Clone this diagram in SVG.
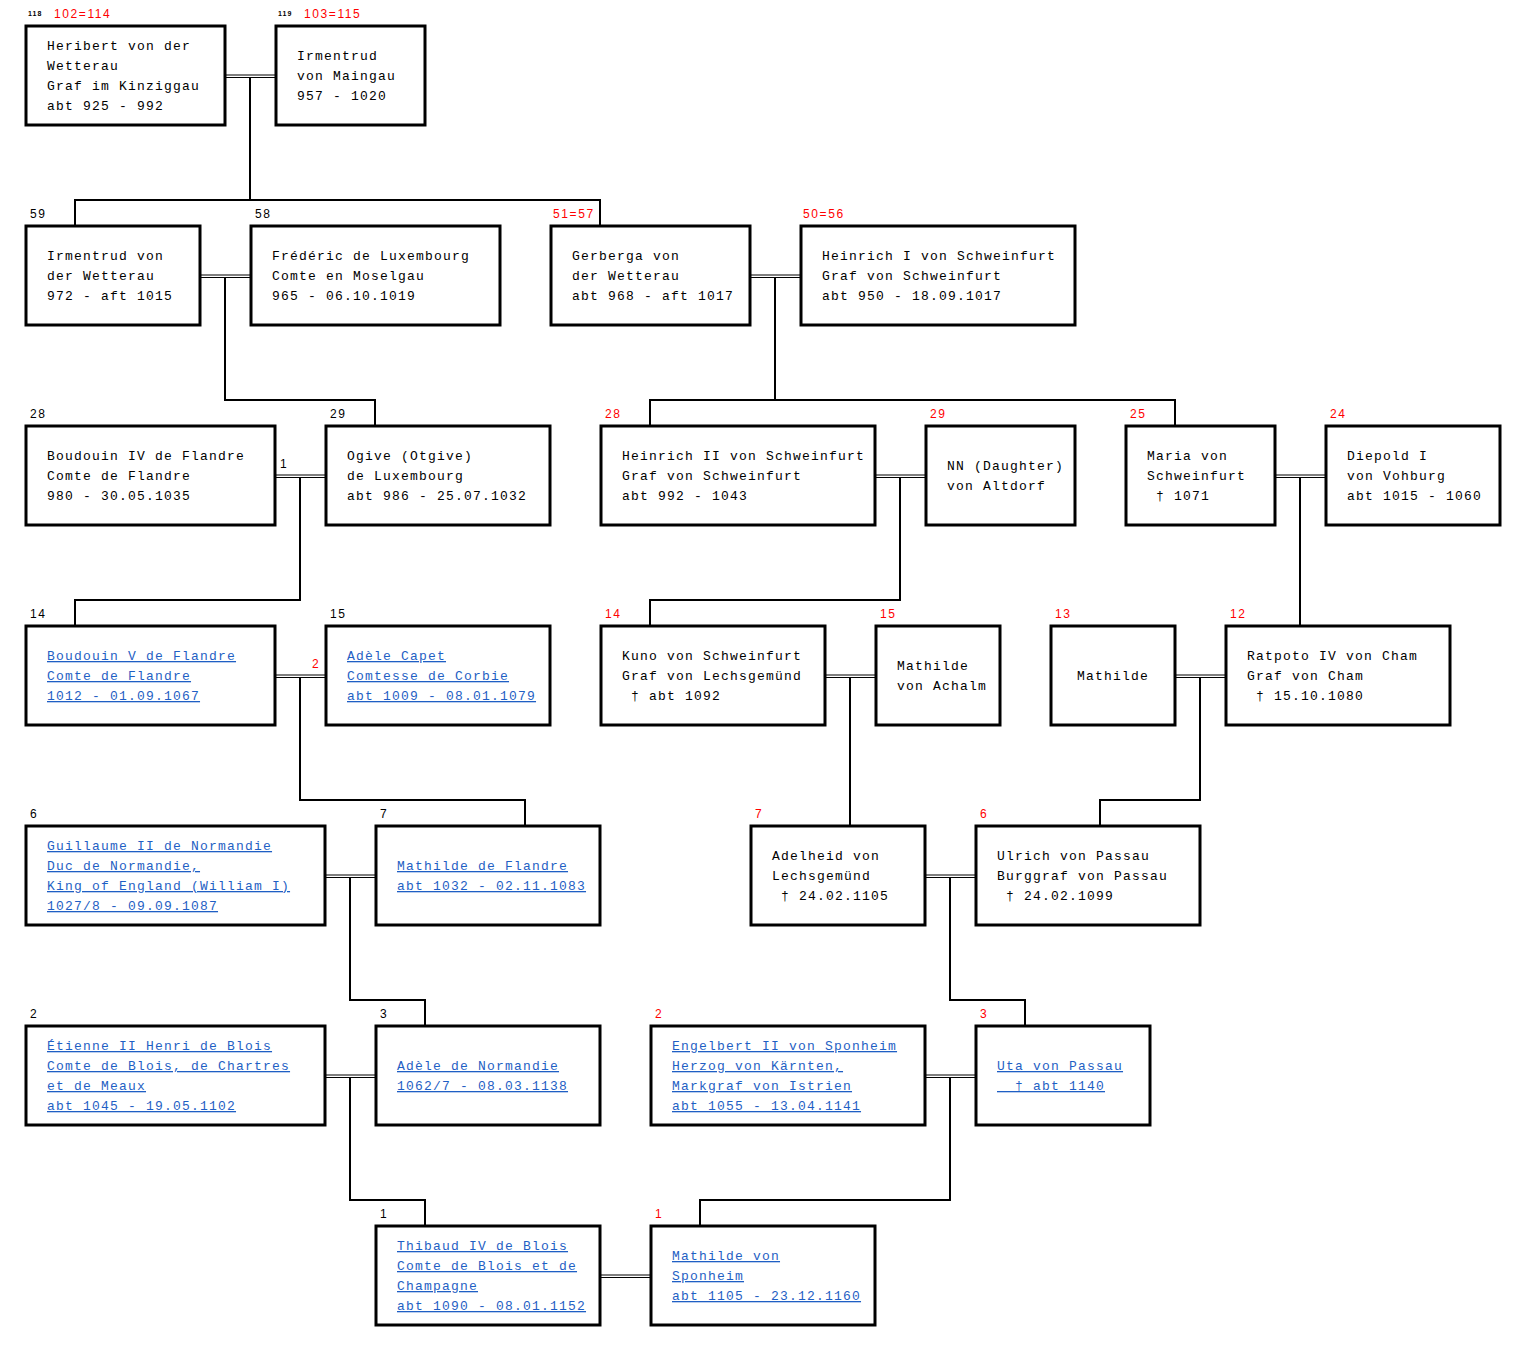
<svg xmlns="http://www.w3.org/2000/svg" width="1526" height="1351" viewBox="0 0 1526 1351">
<style>
.box{fill:#fff;stroke:#000;stroke-width:3}
.t{font-family:"Liberation Mono","Courier New",monospace;font-size:13px;letter-spacing:1.2px;fill:#000;white-space:pre}
.a{fill:#1f5fc4;text-decoration:underline}
.lb{font-family:"Liberation Sans",Arial,sans-serif;font-size:12px;letter-spacing:1.6px;fill:#000}
.r{fill:#f00}
.sm{font-family:"Liberation Sans",Arial,sans-serif;font-size:7px;font-weight:bold;letter-spacing:1px;fill:#000}
.c{fill:none;stroke:#000;stroke-width:2}
.d{fill:none;stroke:#000;stroke-width:1.2}
</style>
<rect width="1526" height="1351" fill="#fff"/>
<g id="connectors">
<path class="d" d="M225 75H275M225 77.5H275 M200 275H250M200 277.5H250 M750 275H800M750 277.5H800 M275 475H325M275 477.5H325 M875 475H925M875 477.5H925 M1275 475H1325M1275 477.5H1325 M275 675H325M275 677.5H325 M825 675H875M825 677.5H875 M1175 675H1225M1175 677.5H1225 M325 875H375M325 877.5H375 M925 875H975M925 877.5H975 M325 1075H375M325 1077.5H375 M925 1075H975M925 1077.5H975 M600 1275H650M600 1277.5H650"/>
<path class="c" d="M250 77.5V200 M75 225V200H600V225"/>
<path class="c" d="M225 277.5V400H375V425"/>
<path class="c" d="M775 277.5V400 M650 425V400H1175V425"/>
<path class="c" d="M300 477.5V600H75V625"/>
<path class="c" d="M900 477.5V600H650V625"/>
<path class="c" d="M1300 477.5V625"/>
<path class="c" d="M300 677.5V800H525V825"/>
<path class="c" d="M850 677.5V825"/>
<path class="c" d="M1200 677.5V800H1100V825"/>
<path class="c" d="M350 877.5V1000H425V1025"/>
<path class="c" d="M950 877.5V1000H1025V1025"/>
<path class="c" d="M350 1077.5V1200H425V1225"/>
<path class="c" d="M950 1077.5V1200H700V1225"/>
</g>
<g id="labels">
<text class="sm" x="28" y="16">118</text><text class="lb r" x="54" y="18">102=114</text>
<text class="sm" x="278" y="16">119</text><text class="lb r" x="304" y="18">103=115</text>
<text class="lb" x="30" y="218">59</text>
<text class="lb" x="255" y="218">58</text>
<text class="lb r" x="553" y="218">51=57</text>
<text class="lb r" x="803" y="218">50=56</text>
<text class="lb" x="30" y="418">28</text>
<text class="lb" x="330" y="418">29</text>
<text class="lb r" x="605" y="418">28</text>
<text class="lb r" x="930" y="418">29</text>
<text class="lb r" x="1130" y="418">25</text>
<text class="lb r" x="1330" y="418">24</text>
<text class="lb" x="280" y="468" fill="#600">1</text>
<text class="lb" x="30" y="618">14</text>
<text class="lb" x="330" y="618">15</text>
<text class="lb r" x="605" y="618">14</text>
<text class="lb r" x="880" y="618">15</text>
<text class="lb r" x="1055" y="618">13</text>
<text class="lb r" x="1230" y="618">12</text>
<text class="lb r" x="312" y="668">2</text>
<text class="lb" x="30" y="818">6</text>
<text class="lb" x="380" y="818">7</text>
<text class="lb r" x="755" y="818">7</text>
<text class="lb r" x="980" y="818">6</text>
<text class="lb" x="30" y="1018">2</text>
<text class="lb" x="380" y="1018">3</text>
<text class="lb r" x="655" y="1018">2</text>
<text class="lb r" x="980" y="1018">3</text>
<text class="lb" x="380" y="1218">1</text>
<text class="lb r" x="655" y="1218">1</text>
</g>
<g id="n118"><rect class="box" x="26" y="26" width="199" height="99"/>
<text class="t" x="47" y="50">Heribert von der</text><text class="t" x="47" y="70">Wetterau</text><text class="t" x="47" y="90">Graf im Kinziggau</text><text class="t" x="47" y="110">abt 925 - 992</text></g>
<g id="n119"><rect class="box" x="276" y="26" width="149" height="99"/>
<text class="t" x="297" y="60">Irmentrud</text><text class="t" x="297" y="80">von Maingau</text><text class="t" x="297" y="100">957 - 1020</text></g>
<g id="n59"><rect class="box" x="26" y="226" width="174" height="99"/>
<text class="t" x="47" y="260">Irmentrud von</text><text class="t" x="47" y="280">der Wetterau</text><text class="t" x="47" y="300">972 - aft 1015</text></g>
<g id="n58"><rect class="box" x="251" y="226" width="249" height="99"/>
<text class="t" x="272" y="260">Frédéric de Luxembourg</text><text class="t" x="272" y="280">Comte en Moselgau</text><text class="t" x="272" y="300">965 - 06.10.1019</text></g>
<g id="n51"><rect class="box" x="551" y="226" width="199" height="99"/>
<text class="t" x="572" y="260">Gerberga von</text><text class="t" x="572" y="280">der Wetterau</text><text class="t" x="572" y="300">abt 968 - aft 1017</text></g>
<g id="n50"><rect class="box" x="801" y="226" width="274" height="99"/>
<text class="t" x="822" y="260">Heinrich I von Schweinfurt</text><text class="t" x="822" y="280">Graf von Schweinfurt</text><text class="t" x="822" y="300">abt 950 - 18.09.1017</text></g>
<g id="n28a"><rect class="box" x="26" y="426" width="249" height="99"/>
<text class="t" x="47" y="460">Boudouin IV de Flandre</text><text class="t" x="47" y="480">Comte de Flandre</text><text class="t" x="47" y="500">980 - 30.05.1035</text></g>
<g id="n29a"><rect class="box" x="326" y="426" width="224" height="99"/>
<text class="t" x="347" y="460">Ogive (Otgive)</text><text class="t" x="347" y="480">de Luxembourg</text><text class="t" x="347" y="500">abt 986 - 25.07.1032</text></g>
<g id="n28b"><rect class="box" x="601" y="426" width="274" height="99"/>
<text class="t" x="622" y="460">Heinrich II von Schweinfurt</text><text class="t" x="622" y="480">Graf von Schweinfurt</text><text class="t" x="622" y="500">abt 992 - 1043</text></g>
<g id="n29b"><rect class="box" x="926" y="426" width="149" height="99"/>
<text class="t" x="947" y="470">NN (Daughter)</text><text class="t" x="947" y="490">von Altdorf</text></g>
<g id="n25"><rect class="box" x="1126" y="426" width="149" height="99"/>
<text class="t" x="1147" y="460">Maria von</text><text class="t" x="1147" y="480">Schweinfurt</text><text class="t" x="1147" y="500" xml:space="preserve"> † 1071</text></g>
<g id="n24"><rect class="box" x="1326" y="426" width="174" height="99"/>
<text class="t" x="1347" y="460">Diepold I</text><text class="t" x="1347" y="480">von Vohburg</text><text class="t" x="1347" y="500">abt 1015 - 1060</text></g>
<g id="n14a"><rect class="box" x="26" y="626" width="249" height="99"/>
<text class="t a" x="47" y="660">Boudouin V de Flandre</text><text class="t a" x="47" y="680">Comte de Flandre</text><text class="t a" x="47" y="700">1012 - 01.09.1067</text></g>
<g id="n15a"><rect class="box" x="326" y="626" width="224" height="99"/>
<text class="t a" x="347" y="660">Adèle Capet</text><text class="t a" x="347" y="680">Comtesse de Corbie</text><text class="t a" x="347" y="700">abt 1009 - 08.01.1079</text></g>
<g id="n14b"><rect class="box" x="601" y="626" width="224" height="99"/>
<text class="t" x="622" y="660">Kuno von Schweinfurt</text><text class="t" x="622" y="680">Graf von Lechsgemünd</text><text class="t" x="622" y="700" xml:space="preserve"> † abt 1092</text></g>
<g id="n15b"><rect class="box" x="876" y="626" width="124" height="99"/>
<text class="t" x="897" y="670">Mathilde</text><text class="t" x="897" y="690">von Achalm</text></g>
<g id="n13"><rect class="box" x="1051" y="626" width="124" height="99"/>
<text class="t" x="1077" y="680">Mathilde</text></g>
<g id="n12"><rect class="box" x="1226" y="626" width="224" height="99"/>
<text class="t" x="1247" y="660">Ratpoto IV von Cham</text><text class="t" x="1247" y="680">Graf von Cham</text><text class="t" x="1247" y="700" xml:space="preserve"> † 15.10.1080</text></g>
<g id="n6a"><rect class="box" x="26" y="826" width="299" height="99"/>
<text class="t a" x="47" y="850">Guillaume II de Normandie</text><text class="t a" x="47" y="870">Duc de Normandie,</text><text class="t a" x="47" y="890">King of England (William I)</text><text class="t a" x="47" y="910">1027/8 - 09.09.1087</text></g>
<g id="n7a"><rect class="box" x="376" y="826" width="224" height="99"/>
<text class="t a" x="397" y="870">Mathilde de Flandre</text><text class="t a" x="397" y="890">abt 1032 - 02.11.1083</text></g>
<g id="n7b"><rect class="box" x="751" y="826" width="174" height="99"/>
<text class="t" x="772" y="860">Adelheid von</text><text class="t" x="772" y="880">Lechsgemünd</text><text class="t" x="772" y="900" xml:space="preserve"> † 24.02.1105</text></g>
<g id="n6b"><rect class="box" x="976" y="826" width="224" height="99"/>
<text class="t" x="997" y="860">Ulrich von Passau</text><text class="t" x="997" y="880">Burggraf von Passau</text><text class="t" x="997" y="900" xml:space="preserve"> † 24.02.1099</text></g>
<g id="n2a"><rect class="box" x="26" y="1026" width="299" height="99"/>
<text class="t a" x="47" y="1050">Étienne II Henri de Blois</text><text class="t a" x="47" y="1070">Comte de Blois, de Chartres</text><text class="t a" x="47" y="1090">et de Meaux</text><text class="t a" x="47" y="1110">abt 1045 - 19.05.1102</text></g>
<g id="n3a"><rect class="box" x="376" y="1026" width="224" height="99"/>
<text class="t a" x="397" y="1070">Adèle de Normandie</text><text class="t a" x="397" y="1090">1062/7 - 08.03.1138</text></g>
<g id="n2b"><rect class="box" x="651" y="1026" width="274" height="99"/>
<text class="t a" x="672" y="1050">Engelbert II von Sponheim</text><text class="t a" x="672" y="1070">Herzog von Kärnten,</text><text class="t a" x="672" y="1090">Markgraf von Istrien</text><text class="t a" x="672" y="1110">abt 1055 - 13.04.1141</text></g>
<g id="n3b"><rect class="box" x="976" y="1026" width="174" height="99"/>
<text class="t a" x="997" y="1070">Uta von Passau</text><text class="t a" x="997" y="1090" xml:space="preserve">  † abt 1140</text></g>
<g id="n1a"><rect class="box" x="376" y="1226" width="224" height="99"/>
<text class="t a" x="397" y="1250">Thibaud IV de Blois</text><text class="t a" x="397" y="1270">Comte de Blois et de</text><text class="t a" x="397" y="1290">Champagne</text><text class="t a" x="397" y="1310">abt 1090 - 08.01.1152</text></g>
<g id="n1b"><rect class="box" x="651" y="1226" width="224" height="99"/>
<text class="t a" x="672" y="1260">Mathilde von</text><text class="t a" x="672" y="1280">Sponheim</text><text class="t a" x="672" y="1300">abt 1105 - 23.12.1160</text></g>
</svg>
